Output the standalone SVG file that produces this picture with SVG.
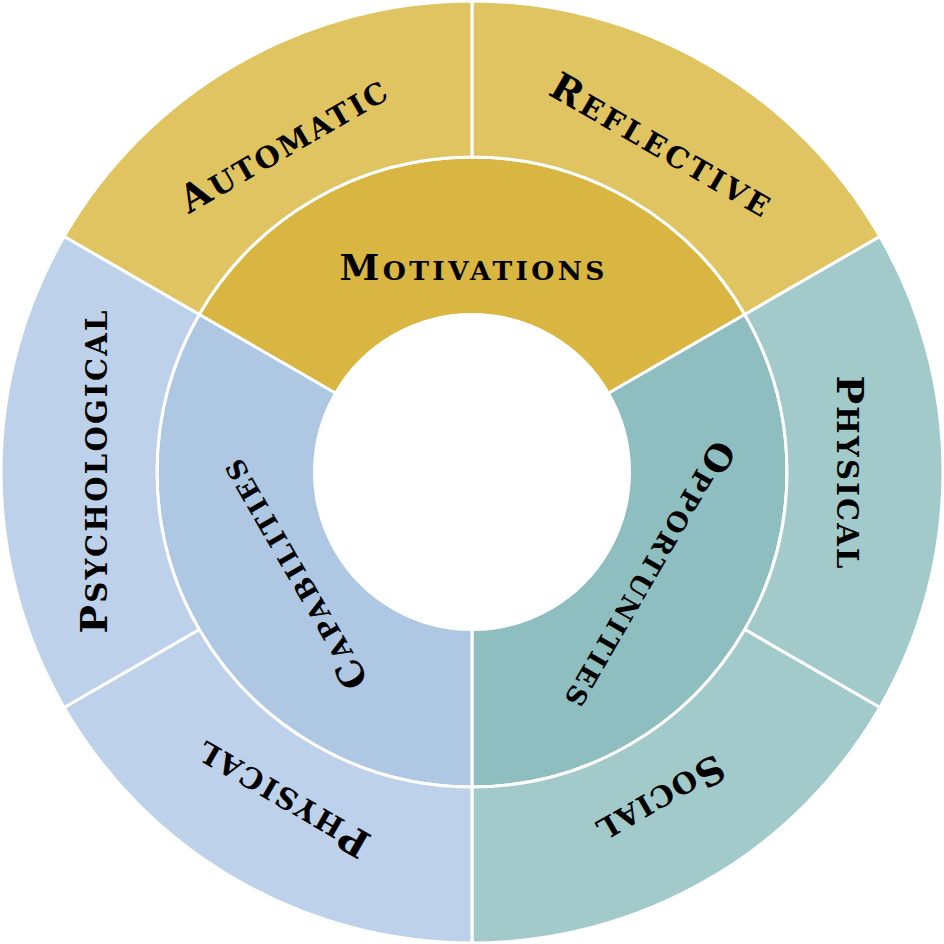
<svg xmlns="http://www.w3.org/2000/svg" width="944" height="944" viewBox="0 0 944 944">
<style>
.seg{stroke:#fff;stroke-width:3;stroke-linejoin:round}
.mi{fill:#D9B541}.mo{fill:#E0C462}
.oi{fill:#8FBEC0}.oo{fill:#A3CACB}
.ci{fill:#AEC7E2}.co{fill:#BDD2EA}
text{font-family:"DejaVu Serif","Liberation Serif",serif;font-weight:bold;fill:#000;text-anchor:middle}
.out{font-size:29px}.out .c{font-size:38px}
.in{font-size:26.5px}.in .c{font-size:36px}
</style>
<rect width="944" height="944" fill="#fff"/>
<g id="motivations">
<path class="seg mi" d="M744.80,314.5 A315 315 0 0 0 199.20,314.5 L335.60,393.25 A157.5 157.5 0 0 1 608.40,393.25 Z"/>
<text class="in" transform="translate(472,268)" y="12" textLength="265" lengthAdjust="spacing"><tspan class="c">M</tspan>OTIVATIONS</text>
</g>
<g id="opportunities">
<path class="seg oi" d="M744.80,314.5 A315 315 0 0 1 472,787 L472,629.5 A157.5 157.5 0 0 0 608.40,393.25 Z"/>
<text class="in" transform="translate(648.7,574) rotate(120)" y="11" textLength="302" lengthAdjust="spacing"><tspan class="c">O</tspan>PPORTUNITIES</text>
</g>
<g id="capabilities">
<path class="seg ci" d="M472,787 A315 315 0 0 1 199.20,314.5 L335.60,393.25 A157.5 157.5 0 0 0 472,629.5 Z"/>
<text class="in" transform="translate(295.3,574) rotate(240)" y="11" textLength="258" lengthAdjust="spacing"><tspan class="c">C</tspan>APABILITIES</text>
</g>
<g id="reflective">
<path class="seg mo" d="M472,1 A471 471 0 0 1 879.90,236.5 L744.80,314.5 A315 315 0 0 0 472,157 Z"/>
<text class="out" transform="translate(660.5,145.5) rotate(30)" y="12" textLength="248" lengthAdjust="spacing"><tspan class="c">R</tspan>EFLECTIVE</text>
</g>
<g id="automatic">
<path class="seg mo" d="M64.10,236.5 A471 471 0 0 1 472,1 L472,157 A315 315 0 0 0 199.20,314.5 Z"/>
<text class="out" transform="translate(283.5,145.5) rotate(-30)" y="12" textLength="232" lengthAdjust="spacing"><tspan class="c">A</tspan>UTOMATIC</text>
</g>
<g id="physical-opportunity">
<path class="seg oo" d="M879.90,236.5 A471 471 0 0 1 879.90,707.5 L744.80,629.5 A315 315 0 0 0 744.80,314.5 Z"/>
<text class="out" transform="translate(849,472) rotate(90)" y="12" textLength="193" lengthAdjust="spacing"><tspan class="c">P</tspan>HYSICAL</text>
</g>
<g id="social">
<path class="seg oo" d="M879.90,707.5 A471 471 0 0 1 472,943 L472,787 A315 315 0 0 0 744.80,629.5 Z"/>
<text class="out" transform="translate(660.5,798.5) rotate(150)" y="12" textLength="140" lengthAdjust="spacing"><tspan class="c">S</tspan>OCIAL</text>
</g>
<g id="physical-capability">
<path class="seg co" d="M472,943 A471 471 0 0 1 64.10,707.5 L199.20,629.5 A315 315 0 0 0 472,787 Z"/>
<text class="out" transform="translate(283.5,798.5) rotate(210)" y="12" textLength="193" lengthAdjust="spacing"><tspan class="c">P</tspan>HYSICAL</text>
</g>
<g id="psychological">
<path class="seg co" d="M64.10,707.5 A471 471 0 0 1 64.10,236.5 L199.20,314.5 A315 315 0 0 0 199.20,629.5 Z"/>
<text class="out" transform="translate(95,472) rotate(-90)" y="12" textLength="323" lengthAdjust="spacing"><tspan class="c">P</tspan>SYCHOLOGICAL</text>
</g>
</svg>
